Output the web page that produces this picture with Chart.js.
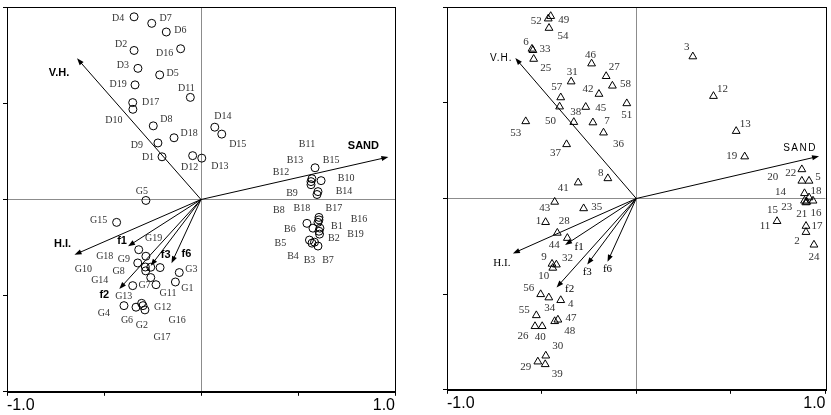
<!DOCTYPE html>
<html>
<head>
<meta charset="utf-8">
<script src="https://cdn.jsdelivr.net/npm/chart.js@4.4.1/dist/chart.umd.min.js"></script>
<style>
  html, body { margin: 0; padding: 0; background: #fff; }
  #wrap { position: relative; width: 831px; height: 415px; }
  .box { position: absolute; top: 0; height: 415px; }
  #left { left: 0; width: 415px; }
  #right { left: 415px; width: 416px; }
</style>
</head>
<body>
<div id="wrap">
  <div class="box" id="left"><canvas id="chartLeft"></canvas></div>
  <div class="box" id="right"><canvas id="chartRight"></canvas></div>
</div>
<script>
// left panel: D / B / G groups (circles)
const dNames = ['D1','D2','D3','D4','D5','D6','D7','D8','D9','D10','D11','D12','D13','D14','D15','D16','D17','D18','D19']
const dX = [-0.201,-0.345,-0.325,-0.345,-0.213,-0.179,-0.254,-0.246,-0.222,-0.351,-0.055,-0.043,0.004,0.071,0.107,-0.105,-0.352,-0.139,-0.340]
const dY = [0.222,0.775,0.682,0.950,0.648,0.871,0.916,0.383,0.294,0.469,0.531,0.228,0.215,0.376,0.340,0.784,0.504,0.321,0.596]

const bNames = ['B1','B2','B3','B4','B5','B6','B7','B8','B9','B10','B11','B12','B13','B14','B15','B16','B17','B18','B19']
const bX = [0.613,0.608,0.585,0.572,0.559,0.577,0.603,0.546,0.598,0.619,0.567,0.567,0.572,0.603,0.588,0.603,0.608,0.608,0.611]
const bY = [-0.149,-0.165,-0.222,-0.227,-0.211,-0.149,-0.242,-0.124,0.026,0.098,0.077,0.093,0.108,0.041,0.165,-0.119,-0.093,-0.106,-0.180]

const gNames = ['G1','G2','G3','G4','G5','G6','G7','G8','G9','G10','G11','G12','G13','G14','G15','G16','G17','G18','G19']
const gX = [-0.132,-0.289,-0.112,-0.397,-0.284,-0.335,-0.352,-0.285,-0.284,-0.287,-0.232,-0.306,-0.259,-0.259,-0.435,-0.211,-0.299,-0.326,-0.321]
const gY = [-0.429,-0.574,-0.380,-0.552,-0.005,-0.560,-0.448,-0.371,-0.295,-0.351,-0.443,-0.540,-0.352,-0.406,-0.119,-0.354,-0.552,-0.330,-0.261]

// right panel: sites 1..58 (triangles)
const siteNames = Array.from({ length: 58 }, (_, i) => String(i + 1))
const siteX = [-0.479,0.897,0.299,-0.399,0.913,-0.551,-0.229,-0.150,-0.445,-0.441,
  0.744,0.408,0.528,0.889,0.889,0.934,0.897,0.913,0.573,0.875,
  0.901,0.875,0.896,0.939,-0.542,-0.535,-0.159,-0.417,-0.520,-0.478,
  -0.344,-0.422,-0.546,-0.462,-0.278,-0.173,-0.368,-0.330,-0.481,-0.497,
  -0.307,-0.197,-0.431,-0.364,-0.267,-0.236,-0.414,-0.431,-0.452,-0.405,
  -0.050,-0.465,-0.584,-0.461,-0.528,-0.505,-0.399,-0.126]
const siteY = [-0.124,-0.176,0.742,-0.532,0.092,0.782,0.397,0.105,-0.342,-0.363,
  -0.119,0.535,0.352,0.027,-0.012,-0.012,-0.144,0.005,0.219,0.092,
  -0.018,0.152,-0.021,-0.242,0.729,-0.668,0.639,-0.180,-0.853,-0.822,
  0.611,-0.346,0.775,-0.518,-0.052,0.344,0.283,0.399,-0.867,-0.668,
  0.083,0.546,-0.018,-0.207,0.478,0.705,-0.634,-0.642,0.953,0.480,
  0.497,0.940,0.403,0.891,-0.611,-0.501,0.528,0.589]

// environmental vectors
const vectorNames = ['V.H.','SAND','H.I.','f1','f3','f6','f2']
const vectorX = [-0.639,0.966,-0.652,-0.376,-0.259,-0.152,-0.421]
const vectorY = [0.734,0.221,-0.287,-0.243,-0.345,-0.331,-0.465]

// label offsets in pixels (placement only)
const dOffsets = [[-14,1],[-13,-6],[-15,-3],[-16,2],[13,-2],[14,-2],[14,-5],[13,-6],[-21,2],[-19,11],[-4,-9],[-3,12],[18,8],[8,-11],[16,10],[-16,5],[18,0],[15,-4],[-17,-1]]
const bOffsets = [[17,-2],[15,7],[-5,18],[-19,13],[-29,3],[-23,1],[10,14],[-28,-13],[-25,-1],[25,-2],[-4,-40],[-30,-9],[-17,-18],[26,0],[16,-7],[41,-3],[15,-9],[-17,-12],[36,0]]
const gOffsets = [[12,6],[-3,15],[12,-3],[-20,8],[-4,-9],[-9,13],[12,0],[-27,1],[-22,3],[-62,2],[12,9],[21,4],[-27,29],[-51,3],[-18,-2],[17,53],[19,32],[-33,-7],[15,-11]]
const siteOffsets = [[-7,-1],[-9,9],[-6,-9],[10,4],[9,-4],[-6,-7],[14,-1],[-7,-5],[-8,-7],[-9,8],
  [-12,5],[9,-7],[9,-7],[-24,-1],[-32,9],[3,12],[11,0],[7,-6],[-13,0],[-29,-4],
  [-5,12],[-11,4],[-19,5],[0,12],[12,9],[-12,10],[8,-9],[7,-12],[-12,5],[12,-10],
  [1,-10],[11,-7],[12,-1],[1,11],[13,-1],[15,11],[-11,9],[2,-10],[12,10],[-2,11],
  [-15,5],[-11,-5],[-10,6],[-13,7],[15,1],[-1,-9],[13,-2],[15,10],[13,4],[-9,14],
  [0,12],[-12,2],[-10,12],[14,8],[-12,-5],[-12,-6],[-4,-10],[13,-2]]
const leftVectorOffsets = [[-18,15],[-25,-11],[-12,-11],[-6,-5],[15,-11],[15,-9],[-15,6]]
const rightVectorOffsets = [[-14,0],[-19,-8],[-11,10],[14,2],[0,8],[0,7],[13,2]]

const toPoints = (xs, ys) => xs.map((x, i) => ({ x, y: ys[i] }))

const biplotPlugin = {
  id: 'biplot',
  beforeDatasetsDraw(chart, args, opts) {
    const { ctx, chartArea: a } = chart
    const xs = chart.scales.x
    const ys = chart.scales.y
    ctx.save()
    ctx.strokeStyle = '#000'
    ctx.lineWidth = 1
    ctx.strokeRect(Math.round(a.left) + 0.5, Math.round(a.top) + 0.5, Math.round(a.right - a.left), Math.round(a.bottom - a.top))
    const ox = xs.getPixelForValue(0)
    const oy = ys.getPixelForValue(0)
    vectorX.forEach((vx, i) => {
      const tx = xs.getPixelForValue(vx)
      const ty = ys.getPixelForValue(vectorY[i])
      const ang = Math.atan2(ty - oy, tx - ox)
      const hl = 7
      const hw = 2.6
      ctx.beginPath()
      ctx.moveTo(ox, oy)
      ctx.lineTo(tx - Math.cos(ang) * 3, ty - Math.sin(ang) * 3)
      ctx.stroke()
      ctx.beginPath()
      ctx.moveTo(tx, ty)
      ctx.lineTo(tx - hl * Math.cos(ang) + hw * Math.sin(ang), ty - hl * Math.sin(ang) - hw * Math.cos(ang))
      ctx.lineTo(tx - hl * Math.cos(ang) - hw * Math.sin(ang), ty - hl * Math.sin(ang) + hw * Math.cos(ang))
      ctx.closePath()
      ctx.fillStyle = '#000'
      ctx.fill()
    })
    ctx.restore()
  },
  afterDatasetsDraw(chart, args, opts) {
    const { ctx } = chart
    const xs = chart.scales.x
    const ys = chart.scales.y
    ctx.save()
    ctx.textAlign = 'center'
    ctx.textBaseline = 'middle'
    ctx.fillStyle = '#333'
    ctx.font = opts.pointFont
    chart.data.datasets.forEach((ds, i) => {
      const meta = chart.getDatasetMeta(i)
      meta.data.forEach((el, j) => {
        const [dx, dy] = ds.labelOffsets[j]
        ctx.fillText(ds.pointNames[j], el.x + dx, el.y + dy)
      })
    })
    ctx.fillStyle = '#000'
    vectorNames.forEach((name, i) => {
      const tx = xs.getPixelForValue(vectorX[i])
      const ty = ys.getPixelForValue(vectorY[i])
      const [dx, dy] = opts.vectorOffsets[i]
      ctx.font = opts.vectorFonts[i]
      ctx.letterSpacing = opts.vectorSpacing[i]
      ctx.fillText(name, tx + dx, ty + dy)
    })
    ctx.restore()
  },
}

function makeScales() {
  return {
    x: {
      type: 'linear',
      min: -1,
      max: 1,
      ticks: {
        stepSize: 0.5,
        autoSkip: false,
        maxRotation: 0,
        align: 'inner',
        padding: 0,
        color: '#000',
        font: { family: 'Liberation Sans, Arial, sans-serif', size: 16 },
        callback: (v) => (v === -1 ? '-1.0' : v === 1 ? '1.0' : ''),
      },
      grid: {
        color: (c) => (c.tick && c.tick.value === 0 ? '#8c8c8c' : 'rgba(0,0,0,0)'),
        tickColor: '#000',
        tickLength: 4,
      },
      border: { color: '#000' },
    },
    y: {
      type: 'linear',
      min: -1,
      max: 1,
      ticks: { stepSize: 0.5, padding: 0, callback: () => '' },
      grid: {
        color: (c) => (c.tick && c.tick.value === 0 ? '#8c8c8c' : 'rgba(0,0,0,0)'),
        tickColor: '#000',
        tickLength: 4,
      },
      border: { color: '#000' },
    },
  }
}

const circleStyle = {
  pointStyle: 'circle',
  pointRadius: 4,
  pointBorderWidth: 1,
  pointBorderColor: '#000',
  pointBackgroundColor: 'rgba(0,0,0,0)',
  showLine: false,
}

new Chart(document.getElementById('chartLeft'), {
  type: 'scatter',
  data: {
    datasets: [
      { label: 'D', data: toPoints(dX, dY), pointNames: dNames, labelOffsets: dOffsets, ...circleStyle },
      { label: 'B', data: toPoints(bX, bY), pointNames: bNames, labelOffsets: bOffsets, ...circleStyle },
      { label: 'G', data: toPoints(gX, gY), pointNames: gNames, labelOffsets: gOffsets, ...circleStyle },
    ],
  },
  options: {
    responsive: true,
    maintainAspectRatio: false,
    animation: false,
    layout: { padding: { left: 3, right: 20, top: 3, bottom: 0 } },
    scales: makeScales(),
    plugins: {
      legend: { display: false },
      tooltip: { enabled: false },
      biplot: {
        pointFont: '10px "Liberation Serif", "Times New Roman", serif',
        vectorOffsets: leftVectorOffsets,
        vectorFonts: vectorNames.map(() => 'bold 11px "Liberation Sans", Arial, sans-serif'),
        vectorSpacing: vectorNames.map(() => '0px'),
      },
    },
  },
  plugins: [biplotPlugin],
})

new Chart(document.getElementById('chartRight'), {
  type: 'scatter',
  data: {
    datasets: [
      {
        label: 'sites',
        data: toPoints(siteX, siteY),
        pointNames: siteNames,
        labelOffsets: siteOffsets,
        pointStyle: 'triangle',
        pointRadius: 4.5,
        pointBorderWidth: 1,
        pointBorderColor: '#000',
        pointBackgroundColor: 'rgba(0,0,0,0)',
        showLine: false,
      },
    ],
  },
  options: {
    responsive: true,
    maintainAspectRatio: false,
    animation: false,
    layout: { padding: { left: 28, right: 1, top: 3, bottom: 2 } },
    scales: makeScales(),
    plugins: {
      legend: { display: false },
      tooltip: { enabled: false },
      biplot: {
        pointFont: '11px "Liberation Serif", "Times New Roman", serif',
        vectorOffsets: rightVectorOffsets,
        vectorFonts: [
          '10px "Liberation Sans", Arial, sans-serif',
          '10px "Liberation Sans", Arial, sans-serif',
          '11px "Liberation Serif", serif',
          '11px "Liberation Serif", serif',
          '11px "Liberation Serif", serif',
          '11px "Liberation Serif", serif',
          '11px "Liberation Serif", serif',
        ],
        vectorSpacing: ['1px', '1.5px', '0px', '0px', '0px', '0px', '0px'],
      },
    },
  },
  plugins: [biplotPlugin],
})
</script>
</body>
</html>
